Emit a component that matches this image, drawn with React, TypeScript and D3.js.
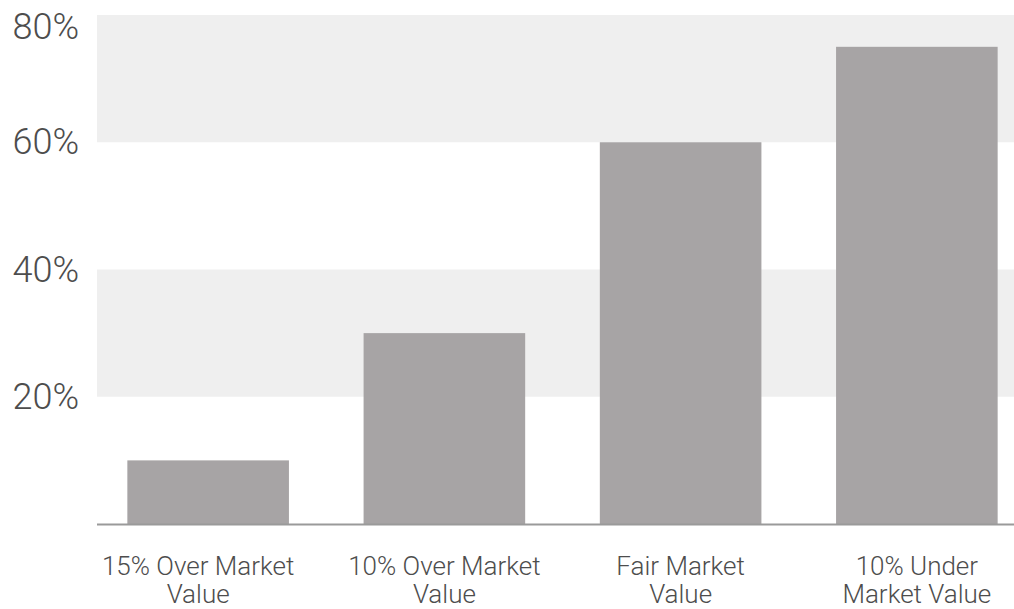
import React from "react";
import * as d3 from "d3";

const categories: string[][] = [
  ["15% Over Market", "Value"],
  ["10% Over Market", "Value"],
  ["Fair Market", "Value"],
  ["10% Under", "Market Value"],
];
const values: number[] = [10, 30, 60, 75];
const yTicks: number[] = [20, 40, 60, 80];

const W = 1014;
const H = 609;

export default function App() {
  const left = 97;
  const right = 1014;
  const y = d3.scaleLinear().domain([0, 80]).range([524, 15]);
  const x = d3
    .scaleBand<number>()
    .domain(values.map((_, i) => i))
    .range([left + 2, 1026])
    .paddingInner(0.316)
    .paddingOuter(0.12);

  const bands: [number, number][] = [];
  for (let i = 0; i < yTicks.length; i += 2) {
    bands.push([yTicks[i], yTicks[i + 1]]);
  }

  return (
    <svg
      width={W}
      height={H}
      style={{ position: "absolute", left: 0, top: 0, display: "block", background: "#fff" }}
      fontFamily="Roboto, 'Noto Sans', sans-serif"
    >
      {bands.map(([a, b], i) => (
        <rect key={i} x={left} width={right - left} y={y(b)} height={y(a) - y(b)} fill="#efefef" />
      ))}
      {values.map((v, i) => (
        <rect
          key={i}
          x={x(i)}
          width={x.bandwidth()}
          y={y(v)}
          height={y(0) - y(v)}
          fill="#a7a4a5"
        />
      ))}
      <line x1={left} x2={right} y1={y(0) + 0.5} y2={y(0) + 0.5} stroke="#9a9a9a" strokeWidth={2} />
      {yTicks.map((t) => (
        <text
          key={t}
          x={79}
          y={Math.max(y(t), 27) + 12}
          textAnchor="end"
          fontSize={36}
          fontWeight={300}
          fill="#4d4d4d"
        >
          {t}%
        </text>
      ))}
      {categories.map((lines, i) => {
        const cx = (x(i) as number) + x.bandwidth() / 2 - (i === 0 ? 10 : 0);
        return (
          <text
            key={i}
            x={cx}
            y={575}
            textAnchor="middle"
            fontSize={26}
            fontWeight={300}
            fill="#4d4d4d"
          >
            {lines.map((l, j) => (
              <tspan key={j} x={cx} dy={j === 0 ? 0 : 28}>
                {l}
              </tspan>
            ))}
          </text>
        );
      })}
    </svg>
  );
}
